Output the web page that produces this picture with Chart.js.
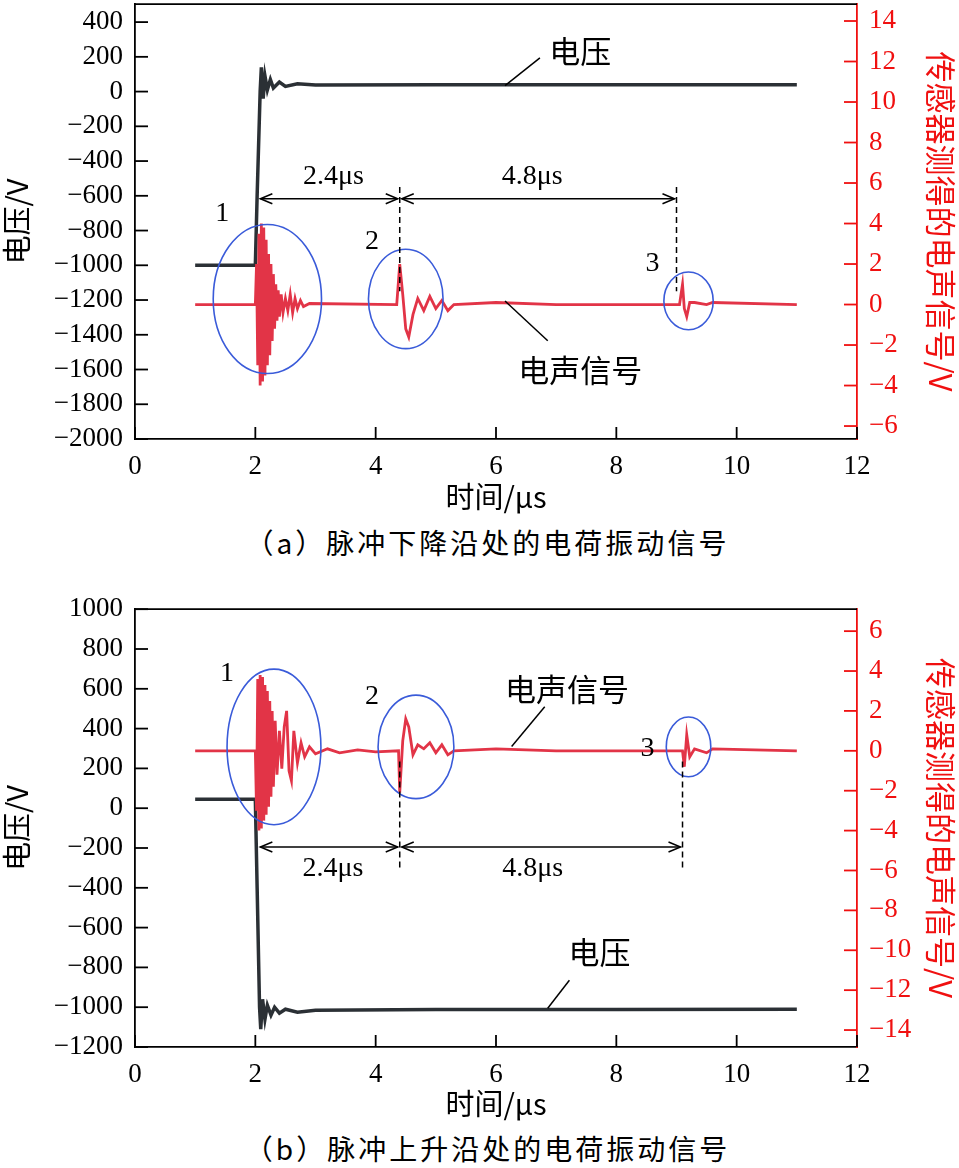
<!DOCTYPE html>
<html><head><meta charset="utf-8">
<script src="https://cdn.jsdelivr.net/npm/chart.js@4"></script>
<style>
body{margin:0;background:#fff;width:959px;height:1168px;position:relative;overflow:hidden}
canvas{position:absolute;left:0}
.cap{position:absolute;left:0;width:975px;text-align:center;font:28px "Noto Sans CJK SC";letter-spacing:3px;color:#000}
</style></head><body>
<canvas id="ca" width="959" height="530" style="top:-16px"></canvas>
<canvas id="cb" width="959" height="532" style="top:589px"></canvas>
<div class="cap" style="top:522px">（a）脉冲下降沿处的电荷振动信号</div>
<div class="cap" style="top:1128px">（b）脉冲上升沿处的电荷振动信号</div>
<script>
const xTicks=[0,2,4,6,8,10,12];
const voltA=[[1,-1000],[2.0,-1000],[2.03,-600],[2.08,0],[2.1,140],[2.13,-40],[2.16,90],[2.2,10],[2.25,70],[2.3,20],[2.4,55],[2.5,30],[2.7,45],[3,38],[5,40],[8,40],[11,40]];
const sigA=[[1,0],[2.0,0],[2.02,2],[2.04,-3],[2.06,3.5],[2.08,-4],[2.1,4],[2.12,-3.8],[2.14,3.8],[2.16,-3.5],[2.18,3.2],[2.2,-3],[2.22,2.5],[2.24,-2.5],[2.26,2],[2.28,-1.8],[2.3,1.5],[2.32,-1.2],[2.34,1],[2.36,-0.8],[2.38,0.7],[2.4,-0.6],[2.43,0.5],[2.46,-0.4],[2.5,0.3],[2.54,-0.3],[2.58,0.5],[2.62,-0.4],[2.66,0.3],[2.7,-0.2],[2.75,0.2],[2.8,-0.1],[2.9,0.05],[4.35,0],[4.4,2],[4.45,0.5],[4.5,-1.2],[4.55,-1.6],[4.62,-0.5],[4.7,0.3],[4.8,-0.3],[4.9,0.4],[5.0,-0.2],[5.1,0.2],[5.2,-0.3],[5.3,0],[6,0.1],[7,0],[9.05,0],[9.1,1],[9.13,-0.2],[9.17,-0.6],[9.22,0.1],[9.3,0.1],[9.5,0],[9.6,0.1],[11,0]];
const voltB=[[1,45],[2.0,45],[2.03,-400],[2.07,-1000],[2.09,-1110],[2.12,-960],[2.16,-1060],[2.2,-990],[2.26,-1040],[2.32,-1000],[2.4,-1030],[2.5,-1010],[2.7,-1025],[3,-1015],[5,-1012],[8,-1012],[11,-1010]];
const sigB=[[1,0],[2.0,0],[2.02,-3],[2.04,3.6],[2.06,-4],[2.08,3.8],[2.1,-3.9],[2.12,3.7],[2.14,-3.5],[2.16,3.3],[2.18,-3.2],[2.2,3],[2.22,-2.8],[2.24,2.5],[2.26,-2.3],[2.28,2],[2.3,-1.8],[2.33,1.5],[2.36,-1.2],[2.4,1],[2.44,-0.9],[2.48,1.2],[2.52,2],[2.56,-1],[2.6,-1.5],[2.64,1],[2.7,-0.6],[2.76,0.4],[2.82,-0.3],[2.9,0.2],[3.0,-0.15],[3.2,0.1],[3.4,-0.1],[3.7,0.05],[4.0,-0.05],[4.38,0],[4.4,-2.1],[4.45,0.5],[4.5,1.6],[4.55,1.2],[4.62,-0.2],[4.7,0.3],[4.8,0.1],[4.9,0.4],[5.0,-0.1],[5.1,0.3],[5.2,-0.2],[5.3,0],[6,0.1],[7,0],[9.1,0],[9.13,-0.8],[9.17,0.8],[9.22,-0.3],[9.3,0.1],[9.5,-0.1],[9.6,0.1],[11,0]];
const annA={ell:[[2.2,-1194,0.9,429],[4.5,-1194,0.62,286],[9.2,-1205,0.41,166]],
 nums:[["1",1.45,-703],["2",3.94,-863],["3",8.6,-989]],
 dash:[[4.4,-549,-1149],[9.0,-549,-1149]],arrow:[-617,2.05,4.4,9.0],
 texts:[["2.4μs",3.3,-491],["4.8μs",6.6,-491],["电压",7.4,234],["电声信号",7.4,-1606]],
 leaders:[[6.15,34,6.73,194],[6.15,-1206,6.86,-1434]]};
const annB={ell:[[2.31,308,0.78,391],[4.67,308,0.63,260],[9.2,308,0.37,150]],
 nums:[["1",1.53,675],["2",3.94,560],["3",8.52,300]],
 dash:[[4.4,235,-305],[9.1,235,-305]],arrow:[-195,2.05,4.4,9.1],
 texts:[["2.4μs",3.29,-305],["4.8μs",6.61,-305],["电声信号",7.18,600],["电压",7.72,-725]],
 leaders:[[6.26,310,6.81,510],[6.86,-1005,7.22,-865]]};
const pts=a=>a.map(p=>({x:p[0],y:p[1]}));
const annPlugin={id:'ann',afterDatasetsDraw(c){
 const a=c.options.plugins.ann, x=c.scales.x, y=c.scales.y, y2=c.scales.y2, ctx=c.ctx, ca=c.chartArea;
 ctx.save();
 ctx.lineWidth=1.8;ctx.strokeStyle='#000';
 ctx.beginPath();ctx.moveTo(ca.left,ca.top);ctx.lineTo(ca.right,ca.top);ctx.stroke();
 x.ticks.forEach(t=>{const p=x.getPixelForValue(t.value);ctx.beginPath();ctx.moveTo(p,ca.bottom);ctx.lineTo(p,ca.bottom-12);ctx.stroke();});
 y.ticks.forEach(t=>{const p=y.getPixelForValue(t.value);ctx.beginPath();ctx.moveTo(ca.left,p);ctx.lineTo(ca.left+13,p);ctx.stroke();});
 ctx.strokeStyle='#f01010';
 y2.ticks.forEach(t=>{const p=y2.getPixelForValue(t.value);ctx.beginPath();ctx.moveTo(ca.right,p);ctx.lineTo(ca.right-13,p);ctx.stroke();});
 ctx.strokeStyle='#3a5bd9';ctx.lineWidth=1.6;
 a.ell.forEach(e=>{ctx.beginPath();const cx=x.getPixelForValue(e[0]),cy=y.getPixelForValue(e[1]);
  ctx.ellipse(cx,cy,Math.abs(x.getPixelForValue(e[0]+e[2])-cx),Math.abs(y.getPixelForValue(e[1]+e[3])-cy),0,0,2*Math.PI);ctx.stroke();});
 ctx.fillStyle='#000';ctx.textAlign='center';ctx.textBaseline='middle';
 ctx.font='28px "Liberation Serif"';
 a.nums.forEach(n=>ctx.fillText(n[0],x.getPixelForValue(n[1]),y.getPixelForValue(n[2])));
 a.texts.forEach(t=>{ctx.font=/μs/.test(t[0])?'28px "Liberation Serif"':'31px "Noto Sans CJK SC"';ctx.fillText(t[0],x.getPixelForValue(t[1]),y.getPixelForValue(t[2]));});
 ctx.strokeStyle='#000';ctx.lineWidth=1.5;ctx.setLineDash([6,4]);
 a.dash.forEach(d=>{ctx.beginPath();ctx.moveTo(x.getPixelForValue(d[0]),y.getPixelForValue(d[1]));ctx.lineTo(x.getPixelForValue(d[0]),y.getPixelForValue(d[2]));ctx.stroke();});
 ctx.setLineDash([]);
 a.leaders.forEach(l=>{ctx.beginPath();ctx.moveTo(x.getPixelForValue(l[0]),y.getPixelForValue(l[1]));ctx.lineTo(x.getPixelForValue(l[2]),y.getPixelForValue(l[3]));ctx.stroke();});
 const ay=y.getPixelForValue(a.arrow[0]);
 for(let i=1;i<a.arrow.length-1;i++){const x1=x.getPixelForValue(a.arrow[i])+2,x2=x.getPixelForValue(a.arrow[i+1])-2;
  ctx.beginPath();ctx.moveTo(x1,ay);ctx.lineTo(x2,ay);ctx.stroke();
  ctx.beginPath();ctx.moveTo(x1+12,ay-5);ctx.lineTo(x1,ay);ctx.lineTo(x1+12,ay+5);ctx.stroke();
  ctx.beginPath();ctx.moveTo(x2-12,ay-5);ctx.lineTo(x2,ay);ctx.lineTo(x2-12,ay+5);ctx.stroke();}
 ctx.restore();}};
function make(id,volt,sig,yl,yr,xh,ann,topPad){
 const tf={family:'Liberation Serif',size:27};
 new Chart(document.getElementById(id),{type:'line',
 data:{datasets:[
  {data:pts(sig),yAxisID:'y',borderColor:'#e23447',borderWidth:2.8,pointRadius:0,tension:0},
  {data:pts(volt),yAxisID:'y',borderColor:'#2b3035',borderWidth:3.5,pointRadius:0,tension:0}]},
 options:{responsive:false,animation:false,events:[],
  layout:{padding:{top:topPad,left:0,right:0,bottom:0}},
  plugins:{legend:{display:false},tooltip:{enabled:false},ann:ann},
  scales:{
   x:{type:'linear',min:0,max:12,afterBuildTicks:s=>{s.ticks=xTicks.map(v=>({value:v}));},
    ticks:{font:tf,color:'#000',maxRotation:0,padding:4},
    grid:{display:false},border:{color:'#000',width:1.8},
    title:{display:true,text:'时间/μs',font:{family:'Noto Sans CJK SC',size:29},color:'#000',padding:0},
    afterFit:s=>{s.height=xh;}},
   y:{position:'left',min:yl.min,max:yl.max,afterBuildTicks:s=>{s.ticks=yl.ticks.map(v=>({value:v}));},
    ticks:{font:tf,color:'#000',padding:4,callback:v=>v<0?'−'+(-v):v},
    grid:{display:false},border:{color:'#000',width:1.8},
    title:{display:true,text:'电压/V',font:{family:'Noto Sans CJK SC',size:29},color:'#000',padding:0},
    afterFit:s=>{s.width=135;}},
   y2:{position:'right',min:yr.min,max:yr.max,afterBuildTicks:s=>{s.ticks=yr.ticks.map(v=>({value:v}));},
    ticks:{font:tf,color:'#f01010',padding:4,callback:v=>v<0?'−'+(-v):v},
    grid:{display:false},border:{color:'#f01010',width:1.8},
    title:{display:true,text:'传感器测得的电声信号/V',font:{family:'Noto Sans CJK SC',size:31},color:'#f01010',padding:0},
    afterFit:s=>{s.width=102;}}}}});
}
function mapSig(sig,yl,yr){return sig.map(p=>[p[0],yl.min+(p[1]-yr.min)/(yr.max-yr.min)*(yl.max-yl.min)]);}
const ylA={min:-2000,max:503,ticks:[-2000,-1800,-1600,-1400,-1200,-1000,-800,-600,-400,-200,0,200,400]};
const yrA={min:-6.64,max:14.83,ticks:[-6,-4,-2,0,2,4,6,8,10,12,14]};
const ylB={min:-1200,max:1000,ticks:[-1200,-1000,-800,-600,-400,-200,0,200,400,600,800,1000]};
const yrB={min:-14.85,max:7.1,ticks:[-14,-12,-10,-8,-6,-4,-2,0,2,4,6]};
Chart.register(annPlugin);
make('ca',voltA,mapSig(sigA,ylA,yrA),ylA,yrA,75,annA,0);
make('cb',voltB,mapSig(sigB,ylB,yrB),ylB,yrB,74,annB,15);
</script></body></html>
